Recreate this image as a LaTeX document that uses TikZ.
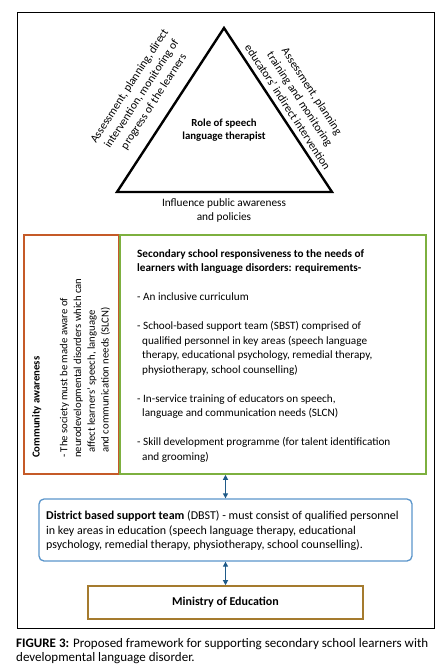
\documentclass[tikz,border=0pt]{standalone}
\usepackage{fontspec}
\setmainfont{Carlito}
\usetikzlibrary{arrows.meta,positioning}
\definecolor{caorange}{HTML}{C55A28}
\definecolor{reqgreen}{HTML}{7DB03F}
\definecolor{dbstblue}{HTML}{5B96CB}
\definecolor{linkblue}{HTML}{1F5A88}
\definecolor{minbrown}{HTML}{A57B2E}
\newcommand{\ind}{\hspace*{5pt}}

\begin{document}
\begin{tikzpicture}[
	x=1pt, y=-1pt,
	>={Triangle[length=5pt,width=5pt]},
	every node/.style={font=\fontsize{11.2}{14.5}\selectfont, inner sep=0pt},
	box/.style={draw, line width=1.6pt},
	link/.style={<->, line width=1.1pt, linkblue},
	slant/.style={align=center, font=\fontsize{11.5}{14.5}\selectfont}
	]
	
	\useasboundingbox[fill=white] (0,0) rectangle (444,671);
	
	%--- outer frame ---
	\draw[line width=0.9pt] (17,12) rectangle (434,628);
	
	%--- triangle ---
	\coordinate (apex) at (224,28);
	\coordinate (bl) at (117,192);
	\coordinate (br) at (332,192);
	\draw[line width=2.4pt, line join=miter] (apex) -- (bl) -- (br) -- cycle;
	
	\node[font=\fontsize{10.8}{13.5}\selectfont\bfseries, align=center] (role) at (224,130)
	{Role of speech\\language therapist};
	
	\node[slant, rotate=57] (direct) at (142,94)
	{Assessment, planning, direct\\intervention, monitoring of\\progress of the learners};
	
	\node[slant, rotate=-57] (indirect) at (300,99)
	{Assessment, planning\\training and monitoring\\educators' indirect intervention};
	
	\node[align=center, font=\fontsize{11.3}{14}\selectfont] (public) at (224,210)
	{Influence public awareness\\and policies};
	
	%--- community / school boxes ---
	\node[box, caorange, minimum width=95pt, minimum height=239pt] (ca) at (71.5,354.5) {};
	\node[box, reqgreen, minimum width=306pt, minimum height=239pt] (req) at (273,354.5) {};
	
	\node[rotate=90, anchor=north west, align=left, font=\fontsize{10.7}{13.8}\selectfont] (catext) at (32,458)
	{\textbf{Community awareness}\\[13.8pt]
		- The society must be made aware of\\
		neurodevelopmental disorders which can\\
		\ind affect learners' speech, language\\
		\ind and communication needs (SLCN)};
	
	\node[anchor=north west, align=left] (reqtext) at (137,249)
	{\textbf{Secondary school responsiveness to the needs of}\\
		\textbf{learners with language disorders: requirements-}\\[14.5pt]
		- An inclusive curriculum\\[14.5pt]
		- School-based support team (SBST) comprised of\\
		\ind qualified personnel in key areas (speech language\\
		\ind therapy, educational psychology, remedial therapy,\\
		\ind physiotherapy, school counselling)\\[14.5pt]
		- In-service training of educators on speech,\\
		\ind language and communication needs (SLCN)\\[14.5pt]
		- Skill development programme (for talent identification\\
		\ind and grooming)};
	
	%--- district and ministry ---
	\node[box, dbstblue, line width=1.3pt, rounded corners=5pt, minimum width=373pt, minimum height=62pt] (dbst) at (225.5,530) {};
	\node[anchor=north west, align=left, font=\fontsize{12}{14.5}\selectfont] (dbsttext) at (46,511)
	{\textbf{District based support team} (DBST) - must consist of qualified personnel\\
		in key areas in education (speech language therapy, educational\\
		psychology, remedial therapy, physiotherapy, school counselling).};
	
	\node[box, minbrown, minimum width=275pt, minimum height=33pt] (min) at (225.5,602.5) {};
	\node[font=\fontsize{12}{14}\selectfont\bfseries] (mintext) at (min) {Ministry of Education};
	
	%--- links ---
	\draw[link] (req.south -| dbst.north) -- (dbst.north);
	\draw[link] (dbst.south) -- (min.north);
	
	%--- caption ---
	\node[anchor=north west, align=left, font=\fontsize{13}{14.5}\selectfont] (caption) at (16,638)
	{\textbf{FIGURE 3:} Proposed framework for supporting secondary school learners with\\
		developmental language disorder.};
	
\end{tikzpicture}
\end{document}
